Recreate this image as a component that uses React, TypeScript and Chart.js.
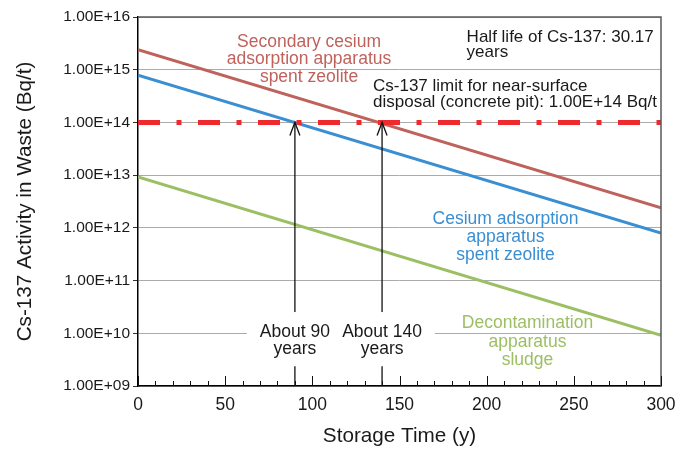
import React, { useEffect, useRef } from "react";
import { Chart, registerables } from "chart.js";

Chart.register(...registerables);

const years = [0, 300];
const secondaryZeolite = [2.4e15, 2.4e12];
const cesiumZeolite = [7.9e14, 8.0e11];
const decontaminationSludge = [9.2e12, 9.2e9];
const disposalLimit = [1e14, 1e14];

const xTickValues = [0, 50, 100, 150, 200, 250, 300];
const yTickValues = [1e9, 1e10, 1e11, 1e12, 1e13, 1e14, 1e15, 1e16];
const arrowYears = [90, 140];

const secondaryLabel = ["Secondary cesium", "adsorption apparatus", "spent zeolite"];
const cesiumLabel = ["Cesium adsorption", "apparatus", "spent zeolite"];
const sludgeLabel = ["Decontamination", "apparatus", "sludge"];
const halfLifeLabel = ["Half life of Cs-137: 30.17", "years"];
const limitLabel = ["Cs-137 limit for near-surface", "disposal (concrete pit): 1.00E+14 Bq/t"];
const arrowLabels = [["About 90", "years"], ["About 140", "years"]];

const FONT = "'Liberation Sans', Arial, Helvetica, sans-serif";
const RED_BROWN = "#bf625c";
const BLUE = "#3a8fd2";
const GREEN = "#9cbf64";
const LIMIT_RED = "#ee2a2e";
const TEXT = "#1a1a1a";

function fmtSci(v: number): string {
  const e = Math.round(Math.log10(v));
  const m = v / Math.pow(10, e);
  return m.toFixed(2) + "E+" + String(e).padStart(2, "0");
}

const pts = (arr: number[]) => years.map((x, i) => ({ x, y: arr[i] }));

const overlayPlugin = {
  id: "overlay",
  afterDatasetsDraw(chart: any) {
    const { ctx, chartArea, scales } = chart;
    const xs = scales.x;
    const ys = scales.y;
    ctx.save();

    // top & right frame
    ctx.strokeStyle = "#5a5a5a";
    ctx.lineWidth = 1.5;
    ctx.beginPath();
    ctx.moveTo(chartArea.left, chartArea.top);
    ctx.lineTo(chartArea.right, chartArea.top);
    ctx.lineTo(chartArea.right, chartArea.bottom);
    ctx.stroke();

    // x ticks pointing inward
    ctx.strokeStyle = "#111";
    ctx.lineWidth = 1;
    for (let v = 0; v <= 300; v += 10) {
      const px = Math.round(xs.getPixelForValue(v)) + 0.5;
      const len = v % 50 === 0 ? 10 : 5;
      ctx.beginPath();
      ctx.moveTo(px, chartArea.bottom);
      ctx.lineTo(px, chartArea.bottom - len);
      ctx.stroke();
    }

    // arrows
    ctx.strokeStyle = "#111";
    ctx.lineWidth = 1.3;
    arrowYears.forEach((yr) => {
      const px = xs.getPixelForValue(yr);
      const tip = ys.getPixelForValue(disposalLimit[0]);
      ctx.beginPath();
      ctx.moveTo(px, chartArea.bottom);
      ctx.lineTo(px, tip);
      ctx.stroke();
      ctx.beginPath();
      ctx.moveTo(px - 5, tip + 13);
      ctx.lineTo(px, tip);
      ctx.lineTo(px + 5, tip + 13);
      ctx.stroke();
    });

    const drawText = (
      lines: string[],
      xv: number,
      yv: number,
      color: string,
      align: "left" | "center",
      size: number,
      lh: number
    ) => {
      ctx.font = `${size}px ${FONT}`;
      ctx.textBaseline = "alphabetic";
      ctx.textAlign = align;
      const x0 = xs.getPixelForValue(xv);
      const y0 = ys.getPixelForValue(yv);
      ctx.fillStyle = color;
      lines.forEach((l, i) => ctx.fillText(l, x0, y0 + i * lh));
    };

    drawText(halfLifeLabel, 188.5, 3.31e15, TEXT, "left", 17, 15);
    drawText(limitLabel, 134.8, 3.94e14, TEXT, "left", 17, 16);
    drawText(secondaryLabel, 98.1, 2.74e15, RED_BROWN, "center", 17.5, 17.5);
    drawText(cesiumLabel, 210.8, 1.18e12, BLUE, "center", 17.5, 18);
    drawText(sludgeLabel, 223.4, 1.24e10, GREEN, "center", 17.5, 18.3);

    // arrow labels with white boxes
    const arrowBase = 8.6e9;
    ctx.font = `17.5px ${FONT}`;
    arrowLabels.forEach((lab, i) => {
      const x0 = xs.getPixelForValue(arrowYears[i]);
      const y0 = ys.getPixelForValue(arrowBase);
      const w = Math.max(...lab.map((l) => ctx.measureText(l).width));
      ctx.fillStyle = "#ffffff";
      ctx.fillRect(x0 - w / 2 - 13, y0 - 24.7, w + 26, 24.7 + 17.5 + 12);
    });
    arrowLabels.forEach((lab, i) => drawText(lab, arrowYears[i], arrowBase, TEXT, "center", 17.5, 17.5));

    ctx.restore();
  },
};

export default function App() {
  const ref = useRef<HTMLCanvasElement>(null);
  useEffect(() => {
    document.body.style.margin = "0";
    const chart = new Chart(ref.current as HTMLCanvasElement, {
      type: "line",
      data: {
        datasets: [
          {
            label: "Limit",
            data: pts(disposalLimit),
            borderColor: LIMIT_RED,
            borderWidth: 5,
            borderDash: [22, 16.5, 5, 16.5],
            pointRadius: 0,
            borderCapStyle: "butt",
          },
          {
            label: "Secondary cesium adsorption apparatus spent zeolite",
            data: pts(secondaryZeolite),
            borderColor: RED_BROWN,
            borderWidth: 3,
            pointRadius: 0,
          },
          {
            label: "Cesium adsorption apparatus spent zeolite",
            data: pts(cesiumZeolite),
            borderColor: BLUE,
            borderWidth: 3,
            pointRadius: 0,
          },
          {
            label: "Decontamination apparatus sludge",
            data: pts(decontaminationSludge),
            borderColor: GREEN,
            borderWidth: 3,
            pointRadius: 0,
          },
        ],
      },
      options: {
        responsive: false,
        animation: false,
        layout: { padding: { left: 0, right: 29, top: 17, bottom: 0 } },
        plugins: { legend: { display: false }, tooltip: { enabled: false } },
        scales: {
          x: {
            type: "linear",
            min: 0,
            max: 300,
            afterBuildTicks: (s: any) => {
              s.ticks = xTickValues.map((v) => ({ value: v }));
            },
            afterFit: (s: any) => {
              s.height = 64;
            },
            ticks: { color: TEXT, font: { family: FONT, size: 17.5 }, padding: 8.5, maxRotation: 0 },
            grid: { display: true, drawOnChartArea: false, drawTicks: false },
            border: { color: "#000", width: 1.5 },
            title: {
              display: true,
              text: "Storage Time (y)",
              color: TEXT,
              font: { family: FONT, size: 20.7 },
              padding: 1,
            },
          },
          y: {
            type: "logarithmic",
            min: 1e9,
            max: 1e16,
            afterBuildTicks: (s: any) => {
              s.ticks = yTickValues.map((v) => ({ value: v, major: true }));
            },
            afterFit: (s: any) => {
              s.width = 138;
            },
            ticks: {
              color: TEXT,
              font: { family: FONT, size: 15.5 },
              padding: 3,
              autoSkip: false,
              callback: (v: any) => fmtSci(Number(v)),
            },
            grid: { color: "#ababab", lineWidth: 1, tickLength: 5, tickColor: "#333" },
            border: { color: "#000", width: 1.5 },
            title: {
              display: true,
              text: "Cs-137 Activity in Waste (Bq/t)",
              color: TEXT,
              font: { family: FONT, size: 20.7 },
              padding: 12.6,
            },
          },
        },
      },
      plugins: [overlayPlugin],
    } as any);
    return () => chart.destroy();
  }, []);
  return (
    <div style={{ position: "absolute", left: 0, top: 0, width: 690, height: 450, background: "#fff" }}>
      <canvas ref={ref} width={690} height={450} />
    </div>
  );
}
